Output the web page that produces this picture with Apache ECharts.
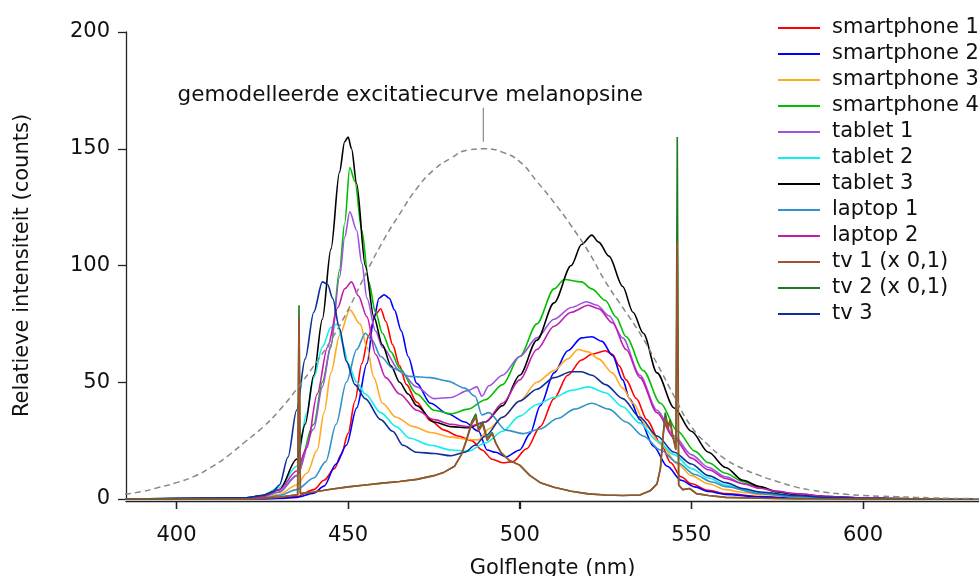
<!DOCTYPE html>
<html>
<head>
<meta charset="utf-8">
<script src="https://cdn.jsdelivr.net/npm/echarts@6/dist/echarts.min.js"></script>
<style>html,body{margin:0;padding:0;background:#fff}#c{width:979px;height:576px}</style>
</head>
<body>
<div id="c"></div>
<script>
// ---- data (wavelength nm, relative intensity) ----
const xTicks = [400, 450, 500, 550, 600];
const seriesNames = ['smartphone 1','smartphone 2','smartphone 3','smartphone 4','tablet 1','tablet 2','tablet 3','laptop 1','laptop 2','tv 1 (x 0,1)','tv 2 (x 0,1)','tv 3'];
const annotationText = 'gemodelleerde excitatiecurve melanopsine';

const smartphone1 = [[385,0],[425,0],[430,0.3],[435,1],[440,4],[443,8],[446,13],[448,19],[450,28],[452,42],[454,58],[456,70],[458,79],[459.5,81.5],[461,76],[463,66],[465,57],[467,49],[470,41.5],[474,33.5],[478,29.5],[482,27],[486,25],[489,21],[492,17],[495,15.5],[498,16],[502,21.5],[506,31],[510,43],[514,53],[518,59.5],[521,62],[525,63.5],[527,62],[529,57],[531,51],[534,43],[537,34],[541,24],[544,15.5],[547,9.5],[550,6.5],[555,3.7],[560,2.3],[570,1],[580,0.5],[590,0.2],[600,0],[634,0]];
const smartphone2 = [[385,0],[425,0],[430,0.2],[435,0.7],[440,2.5],[443,5.5],[446.5,15],[449.5,23],[452.5,39],[455.5,58],[457.5,77],[459,86],[460.5,87.5],[462,86],[463.5,81],[465.5,72],[467.5,61],[470,49.5],[474,41],[479,36.5],[484,33],[488,29],[490.5,21],[493,20],[496,18],[500,21],[503,28],[506,40],[510,54],[514,63.5],[518,69],[521,69.5],[524,67.5],[527,61.5],[530,51],[532,43],[535,34],[539,22.5],[543,14],[547,8],[551,5.2],[555,3.2],[560,2],[570,0.9],[580,0.4],[590,0.2],[600,0],[634,0]];
const smartphone3 = [[385,0],[420,0.2],[425,0.6],[430,2],[435,6],[438,11],[441,21],[443,37],[445,54],[447.5,70],[450.5,81],[453.5,75],[455.5,65],[457.5,52],[460,41],[464,35],[469,31],[474,28.5],[480,26.5],[485,25.5],[488,25.3],[491,30],[495,35],[500,42],[505,50],[510,55],[514,60],[517,64],[520,63],[523,60],[527,54],[530,47.5],[533,41],[537,31],[541,23.5],[546,15],[550,10],[555,6.5],[560,4],[565,2.8],[570,1.9],[580,1],[590,0.5],[600,0.2],[610,0],[634,0]];
const smartphone4 = [[385,0],[420,0.3],[425,1],[430,3],[435,10],[440,32],[442.5,50],[445,65],[447.5,98],[449,118],[450.5,142],[452,136],[454,115],[456,93],[458,80],[460,71],[462.5,63],[465,56],[470,45],[475,38],[480,36.5],[485,38.5],[490,42.5],[495,49],[500,61],[505,75],[510,90],[513,94],[518,93],[521,90],[525,85],[528,78],[531,69.5],[536,55],[541,41],[546,29],[551,20.5],[555,15.5],[560,11],[565,7.5],[570,4.8],[575,3],[580,2],[590,0.9],[600,0.4],[610,0.2],[620,0],[634,0]];
const tablet1 = [[385,0],[420,0.3],[425,1],[430,3],[435,10],[440,30],[442.5,48],[445,66],[447.5,95],[449,112],[450.5,123],[452.5,115],[454,101],[455.5,86],[458,72],[460,65],[465,55],[470,48],[475,43],[480,43.5],[485,46.5],[487.5,48],[489,44],[491,48.5],[495,53],[500,61],[505,69],[510,77],[515,82],[519.5,84.5],[522.5,83],[526,78.5],[530,69],[535,53],[540,38],[545,27],[550,19],[555,13.5],[560,9.5],[565,6.7],[570,4.6],[575,3.3],[580,2.3],[590,1],[600,0.4],[610,0.2],[620,0],[634,0]];
const tablet2 = [[385,0],[420,0.5],[425,1.5],[430,5],[435,14],[438,37],[440,52],[442.5,65],[445,73.5],[447,75],[448.5,66],[450,58],[452.5,50],[455,45],[459.5,37],[464,31],[468,26],[474,23],[480,21],[485,20.5],[490,24],[495,29],[500,35.5],[505,40.5],[510,43.5],[515,46.5],[520,48],[525,45.5],[530,39.5],[535,32.5],[540,25],[545,19],[550,13],[555,9],[560,6],[565,4],[570,2.8],[580,1.5],[590,0.7],[600,0.3],[610,0],[634,0]];
const tablet3 = [[385,0],[420,0.5],[425,1.5],[430,4],[435,17],[437.5,32],[440,53],[442.5,77],[445,107],[447.5,140],[449,153],[450,155],[451,150],[452.5,135],[455,100],[457.5,78],[460,66],[462.5,57],[465,50],[467.5,45],[470,40],[475,33],[480,31],[485,30.5],[490,33],[495,40],[500,53],[505,68],[510,84],[515,100],[518,109],[521,113],[523,110],[526,104],[530,91],[533,80],[536,71],[540,54],[545,39],[550,29],[555,20],[560,13.5],[565,8],[570,5.3],[575,3.1],[580,2],[590,1],[600,0.4],[610,0.2],[620,0],[634,0]];
const laptop1 = [[385,0],[420,0.2],[425,0.5],[430,1.5],[435,4],[440,9],[443.5,16],[446.5,32],[449.5,50],[452.5,64],[455,71],[457,68],[459.5,61],[463,56],[468,52.5],[474,52],[479,50.5],[484,47.5],[487,44],[489,36],[491,37],[496,29.5],[501,28],[506,30],[511,34.5],[516,38.5],[521,41],[526,38.5],[531,33],[536,27],[541,21],[546,15.5],[551,10.5],[556,7.3],[560,5.3],[570,2.3],[580,1],[590,0.5],[600,0.2],[610,0],[634,0]];
const laptop2 = [[385,0],[420,0.3],[425,1],[430,4],[435,12],[438,22],[441,45],[444,65],[447,82],[449,90],[451,93],[453,87],[455.5,78],[458,62],[461,52],[465,45],[470,38],[475,34],[480,32],[485,31],[490,33],[495,41],[500,51],[505,64],[510,74],[515,80],[520,83],[523,81.5],[527,75.5],[531,64],[535,52],[540,37],[545,26],[550,17.5],[555,12.5],[560,8.8],[565,6.5],[570,4.6],[575,3.3],[580,2.3],[590,1],[600,0.5],[610,0.2],[620,0],[634,0]];
const tv1 = [[385,0],[420,0],[425,0.3],[430,0.8],[435.3,1.8],[435.7,78],[436.1,2.3],[440,3],[445,4.2],[450,5.2],[455,6],[460,6.8],[465,7.5],[470,8.4],[475,10],[478,11.5],[481,14],[483,19],[484.5,25],[486,32],[487.2,35],[488,29],[489.2,32],[490.5,25],[492,28],[493,24],[494.5,20],[497,16.5],[500,14.5],[503,10],[506,7],[510,5],[515,3.3],[520,2.2],[525,1.7],[530,1.5],[535,1.7],[538,3.5],[540,6.5],[541,13],[541.8,27],[542.4,35],[543.2,30],[543.8,33],[544.6,26.5],[545.5,21],[545.9,110],[546.3,6],[547.5,4],[549.5,4.5],[551.5,2.3],[555,1.5],[560,0.7],[570,0.3],[580,0],[634,0]];
const tv2 = [[385,0],[420,0],[425,0.3],[430,0.8],[435.3,1.8],[435.7,83],[436.1,2.3],[440,3],[445,4.2],[450,5.2],[455,6],[460,6.8],[465,7.5],[470,8.4],[475,10],[478,11.5],[481,14],[483,19],[484.5,25.5],[486,33],[487.2,36.5],[488,30],[489.2,33],[490.5,26],[492,28.5],[493,24],[494.5,20],[497,16.5],[500,14.5],[503,10],[506,7],[510,5],[515,3.3],[520,2.2],[525,1.7],[530,1.5],[535,1.7],[538,3.5],[540,6.5],[541,13.5],[541.8,28],[542.4,37],[543.2,31],[543.8,34],[544.6,27],[545.5,21.5],[545.9,155],[546.3,6],[547.5,4],[549.5,4.5],[551.5,2.3],[555,1.5],[560,0.7],[570,0.3],[580,0],[634,0]];
const tv3 = [[385,0],[420,0.5],[425,1.5],[428,3],[430,6],[432.5,18],[435,38],[437.5,60],[440,80],[442.5,93],[444,92],[445.5,86],[447.5,73],[449.5,59],[452,49],[455,43],[459.5,34],[463,29],[466,23],[470,20],[475,19.5],[480,18.5],[484,20],[487,23],[490,27],[495,35],[500,42],[505,47],[510,52],[515,54.5],[518,54.5],[521,53],[525,49],[530,43],[535,35],[540,27],[545,20],[550,15],[555,10],[560,7],[565,4.5],[570,3],[580,1.5],[590,0.7],[600,0.3],[610,0.1],[620,0],[634,0]];
const melanopsin = [[385,2],[390,3.2],[395,5],[400,7],[405,9.6],[410,13.5],[415,18.5],[420,24.5],[425,30.5],[430,38],[435,47],[440,57],[445,68],[450,81],[455,96],[460,110],[465,122],[470,133],[475,141],[480,146],[485,149.5],[490,150],[495,148.5],[500,144.5],[505,136],[510,127],[515,117],[520,106],[525,93],[530,82],[535,71],[540,58],[545,44],[550,31],[555,23],[560,17],[565,13],[570,10],[575,7.5],[580,5.3],[585,3.8],[590,2.7],[595,2],[600,1.5],[605,1.2],[610,1],[615,0.7],[620,0.5],[625,0.3],[630,0.2],[634,0.1]];

const seriesData = [smartphone1, smartphone2, smartphone3, smartphone4, tablet1, tablet2, tablet3, laptop1, laptop2, tv1, tv2, tv3];
const colors = ['#ff0000','#0000ff','#ffaa22','#00c000','#9b55dd','#11eeee','#000000','#3392c8','#c21cae','#a0522d','#1e7a1e','#0e2f9a'];
const zOrder = [2,2,2,2,2,2,2,2,2,4,3,2];
const smoothing = [0.3,0.3,0.3,0.3,0.3,0.3,0.3,0.3,0.3,0,0,0.3];

const FONT = 'DejaVu Sans';
const AXIS_OFFSET = 2;
const chart = echarts.init(document.getElementById('c'), null, {renderer: 'canvas'});

const series = seriesData.map((d, i) => ({
  name: seriesNames[i],
  type: 'line',
  data: d,
  symbol: 'none',
  showSymbol: false,
  smooth: smoothing[i],
  smoothMonotone: 'x',
  z: zOrder[i],
  lineStyle: {color: colors[i], width: 1.6},
  itemStyle: {color: colors[i]},
  emphasis: {disabled: true},
  animation: false
}));
series.push({
  name: 'melanopsine',
  type: 'line',
  data: melanopsin,
  symbol: 'none',
  z: 5,
  smooth: true,
  lineStyle: {color: '#888888', width: 1.5, type: [6, 4]},
  emphasis: {disabled: true},
  animation: false
});

chart.setOption({
  animation: false,
  grid: {left: 126, right: 0, top: 32, bottom: 77, containLabel: false, outerBoundsMode: 'none'},
  legend: {
    data: seriesNames,
    orient: 'vertical',
    left: 778,
    top: 15,
    padding: 0,
    itemGap: 0,
    itemWidth: 42,
    itemHeight: 2,
    icon: 'rect',
    selectedMode: false,
    textStyle: {fontFamily: FONT, fontSize: 21, color: '#111', lineHeight: 26, padding: [0, 0, 0, 7]}
  },
  xAxis: {
    type: 'value',
    min: 385.3,
    max: 633.8,
    offset: AXIS_OFFSET,
    name: 'Golflengte (nm)',
    nameLocation: 'middle',
    nameGap: 57,
    nameTextStyle: {fontFamily: FONT, fontSize: 21, color: '#111'},
    axisLine: {show: true, onZero: false, lineStyle: {color: '#222', width: 1.3}},
    axisTick: {show: true, length: 8, lineStyle: {color: '#222', width: 1.3}},
    axisLabel: {
      fontFamily: FONT, fontSize: 21, color: '#111', margin: 24,
      showMinLabel: false, showMaxLabel: false,
      formatter: v => (xTicks.includes(Math.round(v * 1000) / 1000) ? String(Math.round(v)) : '')
    },
    splitLine: {show: false}
  },
  yAxis: {
    type: 'value',
    min: 0,
    max: 200,
    interval: 50,
    name: 'Relatieve intensiteit (counts)',
    nameLocation: 'middle',
    nameGap: 93,
    nameTextStyle: {fontFamily: FONT, fontSize: 21, color: '#111'},
    axisLine: {show: true, lineStyle: {color: '#222', width: 1.3}},
    axisTick: {show: true, length: 8, lineStyle: {color: '#222', width: 1.3}},
    axisLabel: {fontFamily: FONT, fontSize: 21, color: '#111', margin: 16},
    splitLine: {show: false}
  },
  series: series
});

const peak = chart.convertToPixel({gridIndex: 0}, [489.4, 150]);
const y0 = chart.convertToPixel({yAxisIndex: 0}, 0) + AXIS_OFFSET;
const tickMarks = xTicks.map(v => {
  const px = Math.round(chart.convertToPixel({xAxisIndex: 0}, v)) + 0.5;
  return {type: 'line', shape: {x1: px, y1: y0, x2: px, y2: y0 + 8}, style: {stroke: '#222', lineWidth: 1.3}, z: 10, silent: true};
});
chart.setOption({
  graphic: [
    {type: 'line', shape: {x1: peak[0], y1: peak[1] - 7, x2: peak[0], y2: peak[1] - 41}, style: {stroke: '#888', lineWidth: 1.2}, z: 10},
    {type: 'text', x: peak[0] - 73, y: peak[1] - 53, style: {text: annotationText, fontFamily: FONT, fontSize: 21.5, fill: '#111', align: 'center', verticalAlign: 'middle'}, z: 10}
  ].concat(tickMarks)
});
</script>
</body>
</html>
